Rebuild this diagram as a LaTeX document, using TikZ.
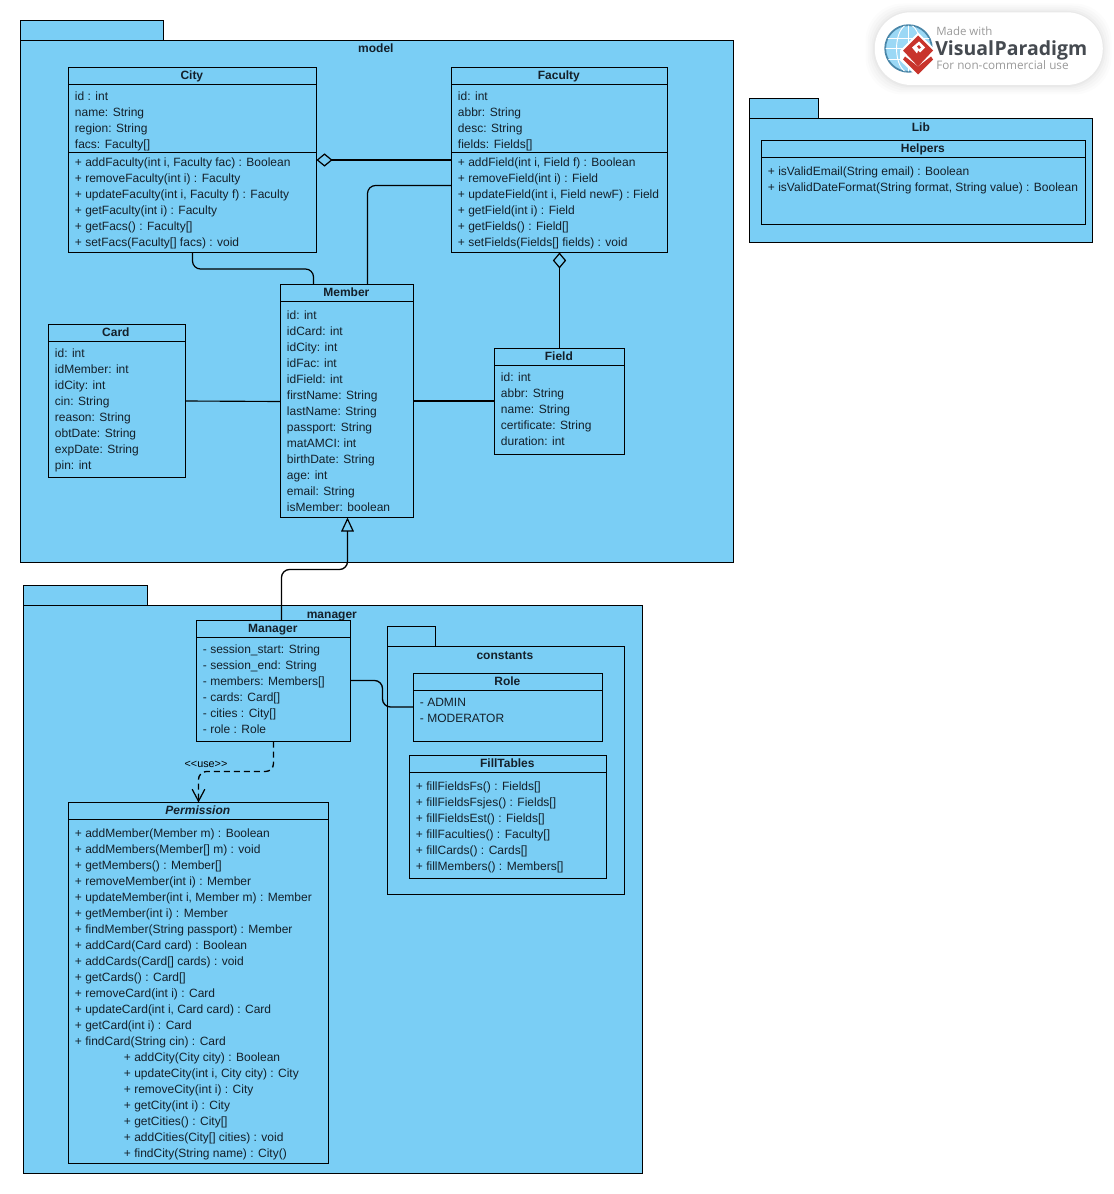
\documentclass[tikz,border=0pt]{standalone}
\usepackage{fontspec}
\setmainfont[Ligatures=NoCommon]{Liberation Sans}
\newfontfamily\logofont{Open Sans}
\usetikzlibrary{arrows.meta,calc}
\definecolor{umlblue}{HTML}{7ACEF5}
\definecolor{umltext}{HTML}{14202A}
\definecolor{logogrey}{HTML}{9A9A9A}
\definecolor{logodark}{HTML}{454A50}
\definecolor{logored}{HTML}{C8342C}
\definecolor{logoblue}{HTML}{9BD8F5}
\definecolor{logoring}{HTML}{4A86A8}
\newcommand{\bx}[6]{\node[#6,anchor=north west,minimum width={(#4-#2)*0.75pt},minimum height={(#5-#3)*0.75pt}] (#1) at (#2,#3) {};}
\newcommand{\divider}[2]{\draw[umlline] (#1.west |- 0,#2) -- (#1.east |- 0,#2);}
\tikzset{
  umlline/.style={draw=black,line width=0.75pt},
  pkgbox/.style={draw=black,fill=umlblue,line width=0.75pt,inner sep=0pt,outer sep=0pt},
  classbox/.style={draw=black,fill=umlblue,line width=0.75pt,inner sep=0pt,outer sep=0pt},
  titletext/.style={font=\bfseries\fontsize{9}{12}\selectfont,text=umltext,inner sep=0pt,anchor=base,yshift=-2.65pt,xshift=-0.5pt},
  comptext/.style={font=\fontsize{9}{12}\selectfont,text=umltext,inner sep=0pt,anchor=north west,align=left,xshift=-0.6pt,yshift=0.7pt},
  conn/.style={draw=black,line width=1pt,rounded corners=6pt},
}
\begin{document}
\begin{tikzpicture}[x=0.75pt,y=-0.75pt]
\useasboundingbox (-0.5,-0.5) rectangle (1112.5,1193.5);
\fill[white] (-0.5,-0.5) rectangle (1112.5,1193.5);

% packages
\bx{modeltab}{20}{20}{163}{40}{pkgbox}
\bx{model}{20}{40}{733}{562}{pkgbox}
\node[titletext] (modeltitle) at (376,48) {model};
\bx{libtab}{749}{98}{818}{118}{pkgbox}
\bx{lib}{749}{118}{1092}{242}{pkgbox}
\node[titletext] (libtitle) at (921,127) {Lib};
\bx{managertab}{23}{585}{147}{605}{pkgbox}
\bx{managerpkg}{23}{605}{642}{1173}{pkgbox}
\node[titletext] (managertitle) at (332,614) {manager};
\bx{constantstab}{387}{626}{435}{646}{pkgbox}
\bx{constants}{387}{646}{624}{894}{pkgbox}
\node[titletext] (constantstitle) at (505,655) {constants};

% City
\bx{city}{68}{67}{316}{252}{classbox}
\node[titletext] (citytitle) at (192,75) {City};
\divider{city}{84}\divider{city}{152}
\node[comptext] (cityattrs) at (75,92) {id : int\\name: String\\region: String\\facs: Faculty[]};
\node[comptext] (citymeths) at (75,158) {+ addFaculty(int i, Faculty fac) : Boolean\\+ removeFaculty(int i) : Faculty\\+ updateFaculty(int i, Faculty f) : Faculty\\+ getFaculty(int i) : Faculty\\+ getFacs() : Faculty[]\\+ setFacs(Faculty[] facs) : void};

% Faculty
\bx{faculty}{451}{67}{667}{252}{classbox}
\node[titletext] (facultytitle) at (559,75) {Faculty};
\divider{faculty}{84}\divider{faculty}{152}
\node[comptext] (facultyattrs) at (458,92) {id: int\\abbr: String\\desc: String\\fields: Fields[]};
\node[comptext] (facultymeths) at (458,158) {+ addField(int i, Field f) : Boolean\\+ removeField(int i) : Field\\+ updateField(int i, Field newF) : Field\\+ getField(int i) : Field\\+ getFields() : Field[]\\+ setFields(Fields[] fields) : void};

% Member
\bx{member}{280}{284}{413}{517}{classbox}
\node[titletext] (membertitle) at (346.5,292) {Member};
\divider{member}{301}
\node[comptext] (memberattrs) at (287,311) {id: int\\idCard: int\\idCity: int\\idFac: int\\idField: int\\firstName: String\\lastName: String\\passport: String\\matAMCI: int\\birthDate: String\\age: int\\email: String\\isMember: boolean};

% Card
\bx{card}{48}{324}{185}{477}{classbox}
\node[titletext] (cardtitle) at (116,332) {Card};
\divider{card}{341}
\node[comptext] (cardattrs) at (55,349) {id: int\\idMember: int\\idCity: int\\cin: String\\reason: String\\obtDate: String\\expDate: String\\pin: int};

% Field
\bx{field}{494}{348}{624}{454}{classbox}
\node[titletext] (fieldtitle) at (559,356) {Field};
\divider{field}{365}
\node[comptext] (fieldattrs) at (501,373) {id: int\\abbr: String\\name: String\\certificate: String\\duration: int};

% Helpers
\bx{helpers}{761}{140}{1085}{224}{classbox}
\node[titletext] (helperstitle) at (923,148) {Helpers};
\divider{helpers}{157}
\node[comptext] (helpersmeths) at (768,167) {+ isValidEmail(String email) : Boolean\\+ isValidDateFormat(String format, String value) : Boolean};

% Manager
\bx{manager}{196}{620}{350}{741}{classbox}
\node[titletext] (managerclasstitle) at (273,628) {Manager};
\divider{manager}{637}
\node[comptext] (managerattrs) at (203,645) {- session\_start: String\\- session\_end: String\\- members: Members[]\\- cards: Card[]\\- cities : City[]\\- role : Role};

% Role
\bx{role}{413}{673}{602}{741}{classbox}
\node[titletext] (roletitle) at (507.5,681) {Role};
\divider{role}{690}
\node[comptext] (roleattrs) at (420,698) {- ADMIN\\- MODERATOR};

% FillTables
\bx{filltables}{409}{755}{606}{878}{classbox}
\node[titletext] (filltablestitle) at (507.5,763) {FillTables};
\divider{filltables}{772}
\node[comptext] (fillmeths) at (416,782) {+ fillFieldsFs() : Fields[]\\+ fillFieldsFsjes() : Fields[]\\+ fillFieldsEst() : Fields[]\\+ fillFaculties() : Faculty[]\\+ fillCards() : Cards[]\\+ fillMembers() : Members[]};

% Permission
\bx{permission}{68}{802}{328}{1163}{classbox}
\node[titletext,font=\bfseries\itshape\fontsize{9}{12}\selectfont] (permissiontitle) at (198,810) {Permission};
\divider{permission}{819}
\node[comptext] (permmeths) at (75,829) {+ addMember(Member m) : Boolean\\+ addMembers(Member[] m) : void\\+ getMembers() : Member[]\\+ removeMember(int i) : Member\\+ updateMember(int i, Member m) : Member\\+ getMember(int i) : Member\\+ findMember(String passport) : Member\\+ addCard(Card card) : Boolean\\+ addCards(Card[] cards) : void\\+ getCards() : Card[]\\+ removeCard(int i) : Card\\+ updateCard(int i, Card card) : Card\\+ getCard(int i) : Card\\+ findCard(String cin) : Card};
\node[comptext] (permcities) at (124,1053) {+ addCity(City city) : Boolean\\+ updateCity(int i, City city) : City\\+ removeCity(int i) : City\\+ getCity(int i) : City\\+ getCities() : City[]\\+ addCities(City[] cities) : void\\+ findCity(String name) : City()};

% connectors
\draw[conn,line width=1.5pt] (faculty.west |- 0,159.5) -- (331,159.5);
\draw[conn,line width=1pt,-{Diamond[open,length=12pt,width=10pt,line width=0.9pt]}] (331,159.5) -- (city.east |- 0,159.5);
\draw[conn,line width=0.9pt] (faculty.west |- 0,185) -| (member.north -| 367,0);
\draw[conn,line width=0.9pt] (city.south -| 192,0) |- (240,268.5) -| (member.north -| 313,0);
\draw[conn,-{Diamond[open,length=12pt,width=10pt,line width=0.9pt]}] (field.north -| 559,0) -- (faculty.south -| 559,0);
\draw[conn,line width=0.85pt] (card.east |- 0,400.5) -- (member.west |- 0,401);
\draw[conn,line width=1.5pt] (member.east |- 0,400.5) -- (field.west |- 0,400.5);
\draw[conn,-{Triangle[open,length=10.5pt,width=9.5pt,line width=0.9pt]}] (manager.north -| 281,0) |- (347,569) -- (member.south -| 347,0);
\draw[conn] (manager.east |- 0,680) -- (382,680) -- (382,706.5) -- (role.west |- 0,706.5);
\draw[conn,dash pattern=on 4.5pt off 3pt,-{Straight Barb[length=9pt,width=9.5pt,line width=0.9pt]}] (manager.south -| 273,0) -- (273,771) -- (198,771) -- (permission.north -| 198,0);
\node[inner sep=0pt,font=\fontsize{8.1}{10}\selectfont,text=black] (uselabel) at (205.5,763.5) {<{}<use>{}>};

% logo
\foreach \g/\o in {9/0.012,7/0.014,5/0.016,3/0.02,1.5/0.025}{
  \fill[black,opacity=\o,rounded corners=28pt] (874-\g,11-\g+1) rectangle (1102+\g,84+\g+1);
}
\node[draw=none,fill=white,rounded corners=27pt,inner sep=0pt,anchor=north west,minimum width=171pt,minimum height=54.5pt] (logobg) at (874,11.5) {};
\node[circle,fill=logoblue,draw=logoring,line width=1.3pt,minimum size=35pt,inner sep=0pt] (globe) at (908,48) {};
\begin{scope}
\clip (908,48) circle[radius=23];
\draw[white,line width=0.7pt] (884,37.5) -- (933,37.5) (884,48) -- (933,48) (884,58.5) -- (933,58.5);
\draw[white,line width=0.7pt] (908,24) -- (908,73);
\draw[white,line width=0.7pt] (908,48) ellipse[x radius=12,y radius=24];
\end{scope}
\fill[white] (917.5,32) -- (935.5,50) -- (935.5,60) -- (917.5,77) -- (899.5,60) -- (899.5,50) -- cycle;
\fill[logored] (917.5,66) -- (930.5,56) -- (932.5,59) -- (917.5,74) -- (902.5,59) -- (904.5,56) -- cycle;
\fill[logored] (917.5,35) -- (932.5,50) -- (917.5,66) -- (902.5,50) -- cycle;
\fill[white] (911.5,47) -- (918.5,41) -- (924.5,47) -- (919.5,52) -- (917.5,50) -- (916.5,53) -- cycle;
\fill[logored] (916.5,46) -- (918.5,44.5) -- (920.5,47) -- (918.5,48.5) -- cycle;
\node[anchor=base west,inner sep=0pt,font=\logofont\fontsize{8.6}{10}\selectfont,text=logogrey] (logomade) at (935.5,35.5) {Made with};
\node[anchor=base west,inner sep=0pt,font=\logofont\bfseries\fontsize{14.6}{18}\selectfont,text=logodark] (logovp) at (934.5,55) {Visual\hspace{0.5pt}Paradigm};
\node[anchor=base west,inner sep=0pt,font=\logofont\fontsize{8.8}{10}\selectfont,text=logogrey] (logouse) at (935.5,69.5) {For non-commercial use};
\end{tikzpicture}
\end{document}
